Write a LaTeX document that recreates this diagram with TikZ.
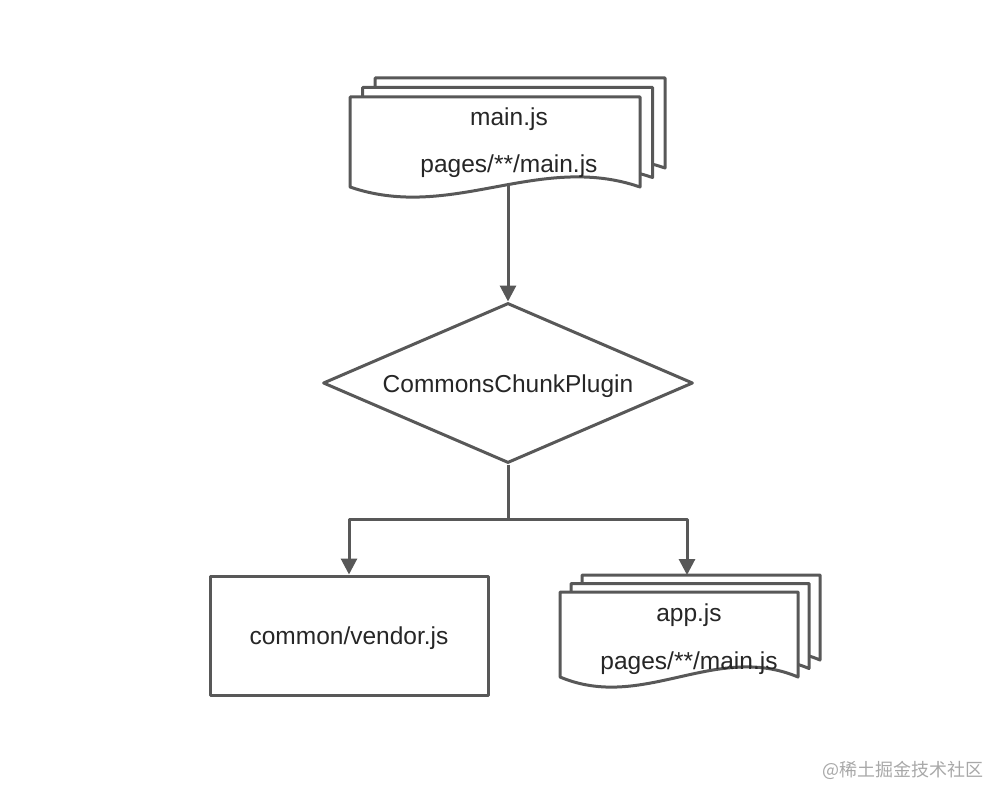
\documentclass[tikz,border=0pt]{standalone}
\usepackage{fontspec}
\setmainfont{Liberation Sans}
\newfontfamily\cjkfont{Noto Sans CJK SC}
\usepackage{xcolor}
\usepackage{tikz}
\usetikzlibrary{arrows.meta}
\usetikzlibrary{shapes.geometric, calc}
\definecolor{linegray}{HTML}{585858}
\definecolor{markgray}{HTML}{A8A8A8}

\begin{document}
\begin{tikzpicture}[x=1pt,y=-1pt,
                line width=3pt, draw=linegray, line join=round,
                sheet/.style={fill=white, draw=linegray, line width=3pt},
                txt/.style={font=\fontsize{24.5}{28}\selectfont, text=black!85},
                arr/.style={-{Triangle[length=16pt,width=16pt]}}]
                \useasboundingbox (0,0) rectangle (1006,802);
                % main.js pages
                \foreach \dx/\dy in {25/-19, 12.5/-9.5, 0/0}
                    \draw[sheet, shift={(\dx,\dy)}] (350,187) -- (350,97) -- (640,97) -- (640,187)
                        .. controls (538.5,152) and (451.5,222) .. (350,187) -- cycle;
                \node[txt] (mainjs) at (509,119) {main.js};
                \node[txt] (mainpages) at (509,166) {pages/**/main.js};
                % plugin
                \node[draw, diamond, aspect=2.3, minimum width=370pt, minimum height=160pt,
                    inner sep=0pt, txt] (plugin) at (508,383) {};
                \node[txt] (plugintext) at (508,386) {CommonsChunkPlugin};
                % common/vendor.js
                \node[draw, rectangle, minimum width=278pt, minimum height=119pt, txt]
                    (vendor) at (349,635.5) {};
                \node[txt] (vendortext) at (349,638) {common/vendor.js};
                % app.js pages
                \foreach \dx/\dy in {22/-17, 11/-8.5, 0/0}
                    \draw[sheet, shift={(\dx,\dy)}] (560,677) -- (560,592) -- (798,592) -- (798,677)
                        .. controls (715,642) and (643,712) .. (560,677) -- cycle;
                \node[txt] (appjs) at (689,615) {app.js};
                \node[txt] (apppages) at (689,663) {pages/**/main.js};
                % arrows
                \coordinate (mainbot) at (508,185);
                \coordinate (split) at (508,519);
                \coordinate (apptop) at (687,575);
                \draw[arr] (mainbot) -- (plugin.north);
                \draw (plugin.south) -- (split);
                \draw[arr] (split) -| (vendor.north);
                \draw[arr] (split) -| (apptop);
                \node[text=markgray, font=\cjkfont\fontsize{18}{20}\selectfont] (mark) at (903,770) {@稀土掘金技术社区};
            \end{tikzpicture}
\end{document}
